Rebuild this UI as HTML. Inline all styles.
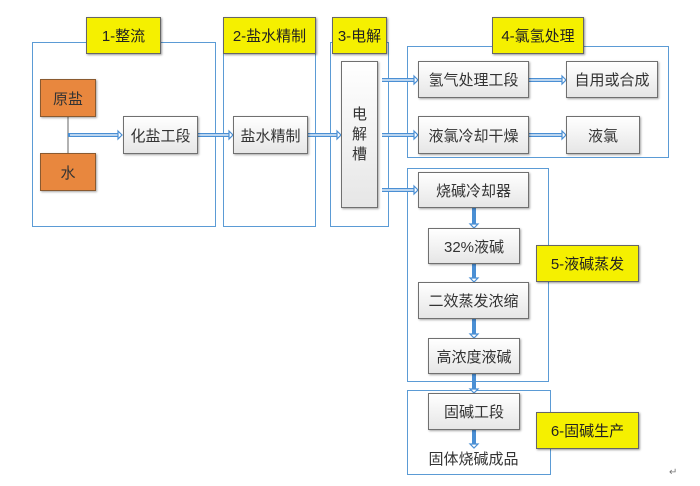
<!DOCTYPE html>
<html><head><meta charset="utf-8"><style>
body{margin:0;width:700px;height:486px;background:#fff;position:relative;overflow:hidden;font-family:"Liberation Sans","Noto Sans CJK SC",sans-serif;}
.c{position:absolute;border:1.5px solid #5b9bd5;box-sizing:border-box;}
.b{position:absolute;box-sizing:border-box;border:1px solid #707070;background:linear-gradient(#fff,#e6e6e6);box-shadow:1px 1px 2px rgba(0,0,0,.35);display:flex;align-items:center;justify-content:center;font-size:15px;color:#333;}
.o{background:#e8873e;border-color:#8a5a30;}
.y{position:absolute;box-sizing:border-box;border:1px solid #666;background:#f5f000;box-shadow:1px 1px 2px rgba(0,0,0,.4);display:flex;align-items:center;justify-content:center;font-size:15px;color:#222;}
svg{position:absolute;left:0;top:0;}
</style></head><body>
<div class="c" style="left:32px;top:42px;width:184px;height:185px"></div>
<div class="c" style="left:223px;top:42px;width:93px;height:185px"></div>
<div class="c" style="left:330px;top:42px;width:59px;height:185px"></div>
<div class="c" style="left:407px;top:46px;width:262px;height:112px"></div>
<div class="c" style="left:407px;top:168px;width:142px;height:214px"></div>
<div class="c" style="left:407px;top:390px;width:144px;height:85px"></div>

<svg width="700" height="486">
<line x1="68" y1="117" x2="68" y2="153" stroke="#666" stroke-width="1"/>
<g stroke="#4a8fd4" stroke-width="4" fill="none">
<line x1="68" y1="135" x2="118" y2="135"/>
<line x1="198" y1="135" x2="229" y2="135"/>
<line x1="308" y1="135" x2="337" y2="135"/>
<line x1="382" y1="80" x2="414" y2="80"/>
<line x1="382" y1="135" x2="414" y2="135"/>
<line x1="382" y1="190" x2="414" y2="190"/>
<line x1="529" y1="80" x2="562" y2="80"/>
<line x1="529" y1="135" x2="562" y2="135"/>
<line x1="474" y1="208" x2="474" y2="224"/>
<line x1="474" y1="264" x2="474" y2="278"/>
<line x1="474" y1="319" x2="474" y2="334"/>
<line x1="474" y1="374" x2="474" y2="389"/>
<line x1="474" y1="430" x2="474" y2="444"/>
</g>
<g stroke="#fff" stroke-width="1.3" fill="none">
<line x1="70" y1="135" x2="119" y2="135"/>
<line x1="198" y1="135" x2="230" y2="135"/>
<line x1="308" y1="135" x2="338" y2="135"/>
<line x1="382" y1="80" x2="415" y2="80"/>
<line x1="382" y1="135" x2="415" y2="135"/>
<line x1="382" y1="190" x2="415" y2="190"/>
<line x1="529" y1="80" x2="563" y2="80"/>
<line x1="529" y1="135" x2="563" y2="135"/>
</g>
<g fill="#fff" stroke="#4a8fd4" stroke-width="1.2">
<path d="M118,131 L122,135 L118,139Z"/><path d="M229,131 L233,135 L229,139Z"/><path d="M337,131 L341,135 L337,139Z"/>
<path d="M414,76 L418,80 L414,84Z"/><path d="M414,131 L418,135 L414,139Z"/><path d="M414,186 L418,190 L414,194Z"/>
<path d="M562,76 L566,80 L562,84Z"/><path d="M562,131 L566,135 L562,139Z"/>
<path d="M470,224 L474,228 L478,224Z"/><path d="M470,278 L474,282 L478,278Z"/><path d="M470,334 L474,338 L478,334Z"/><path d="M470,389 L474,393 L478,389Z"/><path d="M470,444 L474,448 L478,444Z"/>
</g>
<text x="669" y="475" font-size="10" fill="#777">↵</text>
</svg>

<div class="b o" style="left:40px;top:79px;width:56px;height:38px">原盐</div>
<div class="b o" style="left:40px;top:153px;width:56px;height:38px">水</div>
<div class="b" style="left:123px;top:116px;width:75px;height:38px">化盐工段</div>
<div class="b" style="left:233px;top:116px;width:75px;height:38px">盐水精制</div>
<div class="b" style="left:341px;top:61px;width:37px;height:147px;flex-direction:column;line-height:20px">电<br>解<br>槽</div>
<div class="b" style="left:418px;top:61px;width:111px;height:37px">氢气处理工段</div>
<div class="b" style="left:566px;top:61px;width:92px;height:37px">自用或合成</div>
<div class="b" style="left:418px;top:116px;width:111px;height:38px">液氯冷却干燥</div>
<div class="b" style="left:566px;top:116px;width:74px;height:38px">液氯</div>
<div class="b" style="left:418px;top:172px;width:111px;height:36px">烧碱冷却器</div>
<div class="b" style="left:428px;top:228px;width:92px;height:36px">32%液碱</div>
<div class="b" style="left:418px;top:282px;width:111px;height:37px">二效蒸发浓缩</div>
<div class="b" style="left:428px;top:338px;width:92px;height:36px">高浓度液碱</div>
<div class="b" style="left:428px;top:393px;width:92px;height:37px">固碱工段</div>
<div style="position:absolute;left:413px;top:448px;width:121px;text-align:center;font-size:15px;color:#333">固体烧碱成品</div>

<div class="y" style="left:86px;top:17px;width:75px;height:37px">1-整流</div>
<div class="y" style="left:223px;top:17px;width:93px;height:37px">2-盐水精制</div>
<div class="y" style="left:332px;top:17px;width:55px;height:37px">3-电解</div>
<div class="y" style="left:492px;top:17px;width:92px;height:37px">4-氯氢处理</div>
<div class="y" style="left:536px;top:245px;width:103px;height:37px">5-液碱蒸发</div>
<div class="y" style="left:536px;top:412px;width:103px;height:37px">6-固碱生产</div>
</body></html>
